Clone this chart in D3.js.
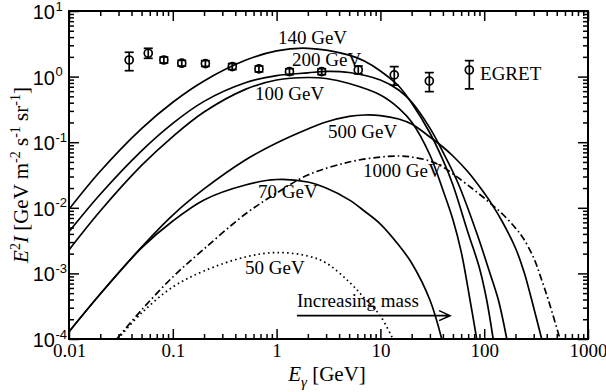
<!DOCTYPE html>
<html>
<head>
<meta charset="utf-8">
<script src="https://cdn.jsdelivr.net/npm/d3@7"></script>
<style>
  body { margin: 0; background: #fff; }
  svg { display: block; font-family: "Liberation Serif", "Times New Roman", serif; }
</style>
</head>
<body>
<svg id="chart" width="606" height="392"></svg>
<script>
// axis decades
const xTicks = [0.01, 0.1, 1, 10, 100, 1000];
const xTickLabels = ["0.01", "0.1", "1", "10", "100", "1000"];
const yTicks = [1e-4, 1e-3, 1e-2, 1e-1, 1, 10];
const yTickExponents = ["-4", "-3", "-2", "-1", "0", "1"];

// E (GeV) and E^2 I for each mass
const e50 = [0.0296, 0.05, 0.1, 0.2, 0.5, 1, 2, 3, 5, 7, 10, 13.2];
const v50 = [1e-4, 2.49e-4, 6.21e-4, 1.09e-3, 1.78e-3, 2.08e-3, 1.84e-3, 1.44e-3, 7.40e-4, 4.22e-4, 2.24e-4, 1e-4];

const e70 = [0.01, 0.02, 0.05, 0.1, 0.2, 0.5, 1, 2, 3, 5, 7, 10, 15, 20, 30, 39];
const v70 = [1.29e-4, 4.85e-4, 2.44e-3, 6.29e-3, 0.0132, 0.0223, 0.0270, 0.0247, 0.0200, 0.0132, 8.93e-3, 5.66e-3, 2.71e-3, 1.44e-3, 3.93e-4, 1e-4];

const e100 = [0.01, 0.02, 0.05, 0.1, 0.2, 0.5, 1, 2, 3, 5, 10, 15, 20, 30, 40, 50, 60, 73, 84.7];
const v100 = [0.00228, 0.00893, 0.0442, 0.122, 0.288, 0.638, 0.887, 0.969, 0.935, 0.785, 0.525, 0.332, 0.203, 0.0638, 0.0187, 0.0066, 0.00215, 3.93e-4, 1e-4];

const e140 = [0.01, 0.02, 0.05, 0.1, 0.2, 0.5, 1, 2, 5, 7, 10, 15, 20, 30, 40, 50, 70, 90, 105.7, 122];
const v140 = [0.00948, 0.0360, 0.161, 0.407, 0.859, 1.77, 2.47, 2.70, 2.13, 1.73, 1.22, 0.719, 0.396, 0.138, 0.0536, 0.0223, 0.00413, 0.00121, 3.93e-4, 1e-4];

const e200 = [0.01, 0.02, 0.05, 0.1, 0.2, 0.5, 1, 2, 3, 5, 10, 15, 20, 30, 40, 55.9, 84.7, 111, 137, 165];
const v200 = [0.00432, 0.0161, 0.0739, 0.194, 0.419, 0.804, 1.035, 1.14, 1.20, 1.155, 0.887, 0.625, 0.410, 0.164, 0.0709, 0.0239, 0.00413, 0.00113, 3.93e-4, 1e-4];

const e500 = [0.01, 0.02, 0.05, 0.1, 0.2, 0.5, 1, 2, 3, 5, 7, 10, 15, 20, 30, 40, 50, 70, 100, 120, 150, 200, 242, 287, 358];
const v500 = [1.29e-4, 4.85e-4, 2.52e-3, 7.76e-3, 0.0194, 0.0536, 0.0972, 0.159, 0.203, 0.247, 0.260, 0.255, 0.226, 0.189, 0.120, 0.0845, 0.0616, 0.0351, 0.0168, 0.0110, 0.00608, 0.00244, 1.05e-3, 3.93e-4, 1e-4];

const e1000 = [0.0288, 0.05, 0.1, 0.2, 0.5, 1, 2, 5, 10, 15, 20, 30, 40, 60, 80, 100, 120, 150, 200, 237, 300, 350, 415, 537];
const v1000 = [1e-4, 2.77e-4, 8.81e-4, 2.36e-3, 8.04e-3, 0.0168, 0.0316, 0.0499, 0.0594, 0.0616, 0.0594, 0.0517, 0.0419, 0.0265, 0.0187, 0.0141, 0.0110, 0.00804, 0.00492, 3.47e-3, 1.72e-3, 8.81e-4, 3.93e-4, 1e-4];

// EGRET diffuse points with error bars
const egretE  = [0.038, 0.058, 0.082, 0.122, 0.206, 0.374, 0.676, 1.33, 2.72, 6.12, 13.6, 29.6, 71.9];
const egretV  = [1.79, 2.27, 1.79, 1.60, 1.58, 1.42, 1.31, 1.19, 1.19, 1.26, 1.06, 0.857, 1.26];
const egretLo = [1.23, 1.90, 1.61, 1.45, 1.43, 1.28, 1.18, 1.07, 1.07, 1.10, 0.74, 0.59, 0.65];
const egretHi = [2.35, 2.70, 1.99, 1.77, 1.75, 1.58, 1.45, 1.32, 1.32, 1.45, 1.42, 1.15, 1.75];

// label anchors (E, value at baseline)
const labelText = ["140 GeV", "200 GeV", "100 GeV", "500 GeV", "1000 GeV", "70 GeV", "50 GeV", "EGRET", "Increasing mass"];
const labelE    = [1.03, 1.41, 0.62, 3.13, 6.8, 0.662, 0.497, 91.2, 1.57];
const labelV    = [3.14, 1.45, 0.44, 0.116, 0.0295, 0.0141, 9.8e-4, 0.887, 3.08e-4];
const arrowE = [1.57, 46.9];
const arrowV = 2.27e-4;

const svg = d3.select("#chart"),
      margin = {top: 11, right: 18, bottom: 53, left: 69},
      width = +svg.attr("width") - margin.left - margin.right,
      height = +svg.attr("height") - margin.top - margin.bottom;

const x = d3.scaleLog().domain([0.01, 1000]).range([0, width]);
const y = d3.scaleLog().domain([1e-4, 10]).range([height, 0]);

const g = svg.append("g").attr("transform", `translate(${margin.left},${margin.top})`);

g.append("clipPath").attr("id", "plot-clip")
  .append("rect").attr("width", width).attr("height", height);

// minor tick values, 2..9 in each decade
const minorX = [], minorY = [];
xTicks.slice(0, -1).forEach(d => { for (let k = 2; k < 10; k++) minorX.push(d * k); });
yTicks.slice(0, -1).forEach(d => { for (let k = 2; k < 10; k++) minorY.push(d * k); });

function styleAxis(sel) {
  sel.select(".domain").remove();
  sel.selectAll(".tick line").attr("stroke", "#000").attr("stroke-width", 1.5);
}

// x axes (bottom with labels, top plain), ticks pointing inside
g.append("g").attr("transform", `translate(0,${height})`)
  .call(d3.axisBottom(x).tickValues(xTicks).tickSize(-10).tickSizeOuter(0).tickPadding(5)
    .tickFormat(d => xTickLabels[xTicks.indexOf(d)]))
  .call(styleAxis)
  .call(a => a.selectAll("text").attr("font-size", 19).attr("font-family", "Liberation Serif").attr("fill", "#000"));
g.append("g").attr("transform", `translate(0,${height})`)
  .call(d3.axisBottom(x).tickValues(minorX).tickSize(-5).tickSizeOuter(0).tickFormat(""))
  .call(styleAxis);
g.append("g")
  .call(d3.axisTop(x).tickValues(xTicks).tickSize(-10).tickSizeOuter(0).tickFormat(""))
  .call(styleAxis);
g.append("g")
  .call(d3.axisTop(x).tickValues(minorX).tickSize(-5).tickSizeOuter(0).tickFormat(""))
  .call(styleAxis);

// y axes
const yLeft = g.append("g")
  .call(d3.axisLeft(y).tickValues(yTicks).tickSize(-10).tickSizeOuter(0).tickFormat(""))
  .call(styleAxis);
g.append("g")
  .call(d3.axisLeft(y).tickValues(minorY).tickSize(-5).tickSizeOuter(0).tickFormat(""))
  .call(styleAxis);
g.append("g").attr("transform", `translate(${width},0)`)
  .call(d3.axisRight(y).tickValues(yTicks).tickSize(-10).tickSizeOuter(0).tickFormat(""))
  .call(styleAxis);
g.append("g").attr("transform", `translate(${width},0)`)
  .call(d3.axisRight(y).tickValues(minorY).tickSize(-5).tickSizeOuter(0).tickFormat(""))
  .call(styleAxis);

// power-of-ten labels on the left
yLeft.selectAll(".tick").each(function(d) {
  const t = d3.select(this);
  const exp = yTickExponents[yTicks.indexOf(d)];
  t.append("text").attr("x", -14).attr("y", 7.5).attr("text-anchor", "end")
    .attr("font-size", 20).attr("fill", "#000").text("10");
  t.append("text").attr("x", -13.5).attr("y", -1).attr("text-anchor", "start")
    .attr("font-size", 13).attr("fill", "#000").text(exp);
});

// frame
g.append("rect").attr("width", width).attr("height", height)
  .attr("fill", "none").attr("stroke", "#000").attr("stroke-width", 2);

// curves
const line = d3.line()
  .x(d => x(d[0]))
  .y(d => y(d[1]))
  .curve(d3.curveCatmullRom.alpha(0.5));

const series = [
  {e: e50, v: v50, dash: "1.6,3.2"},
  {e: e70, v: v70, dash: null},
  {e: e100, v: v100, dash: null},
  {e: e140, v: v140, dash: null},
  {e: e200, v: v200, dash: null},
  {e: e500, v: v500, dash: null},
  {e: e1000, v: v1000, dash: "7,3,1.6,3"}
];

const curves = g.append("g").attr("clip-path", "url(#plot-clip)");
series.forEach(s => {
  curves.append("path")
    .attr("d", line(s.e.map((e, i) => [e, s.v[i]])))
    .attr("fill", "none")
    .attr("stroke", "#000")
    .attr("stroke-width", 1.7)
    .attr("stroke-dasharray", s.dash);
});

// EGRET points
const pts = g.append("g").attr("stroke", "#000").attr("stroke-width", 1.7).attr("fill", "none");
egretE.forEach((e, i) => {
  const cx = x(e);
  pts.append("line").attr("x1", cx).attr("x2", cx).attr("y1", y(egretLo[i])).attr("y2", y(egretHi[i]));
  pts.append("line").attr("x1", cx - 4.5).attr("x2", cx + 4.5).attr("y1", y(egretLo[i])).attr("y2", y(egretLo[i]));
  pts.append("line").attr("x1", cx - 4.5).attr("x2", cx + 4.5).attr("y1", y(egretHi[i])).attr("y2", y(egretHi[i]));
  pts.append("circle").attr("cx", cx).attr("cy", y(egretV[i])).attr("r", 4);
});

// labels
labelText.forEach((t, i) => {
  g.append("text").attr("x", x(labelE[i])).attr("y", y(labelV[i]))
    .attr("font-size", 19).attr("fill", "#000").text(t);
});

// increasing-mass arrow
const ax0 = x(arrowE[0]), ax1 = x(arrowE[1]), ay = y(arrowV);
g.append("path")
  .attr("d", `M${ax0},${ay}H${ax1}M${ax1 - 11},${ay - 5}L${ax1},${ay}L${ax1 - 11},${ay + 5}`)
  .attr("fill", "none").attr("stroke", "#000").attr("stroke-width", 1.6);

// axis titles
const xt = svg.append("text")
  .attr("x", 327).attr("y", 381).attr("text-anchor", "middle")
  .attr("font-size", 21).attr("fill", "#000");
xt.append("tspan").attr("font-style", "italic").text("E");
xt.append("tspan").attr("font-style", "italic").attr("font-size", 15).attr("dy", 6).text("γ");
xt.append("tspan").attr("dy", -6).text(" [GeV]");

const yt = svg.append("text")
  .attr("transform", "translate(28,175) rotate(-90)")
  .attr("text-anchor", "middle")
  .attr("font-size", 21).attr("fill", "#000");
yt.append("tspan").attr("font-style", "italic").text("E");
yt.append("tspan").attr("font-size", 14).attr("dy", -8).text("2");
yt.append("tspan").attr("font-style", "italic").attr("dy", 8).text("I");
yt.append("tspan").text(" [GeV m");
yt.append("tspan").attr("font-size", 14).attr("dy", -8).text("-2");
yt.append("tspan").attr("dy", 8).text(" s");
yt.append("tspan").attr("font-size", 14).attr("dy", -8).text("-1");
yt.append("tspan").attr("dy", 8).text(" sr");
yt.append("tspan").attr("font-size", 14).attr("dy", -8).text("-1");
yt.append("tspan").attr("dy", 8).text("]");
</script>
</body>
</html>
